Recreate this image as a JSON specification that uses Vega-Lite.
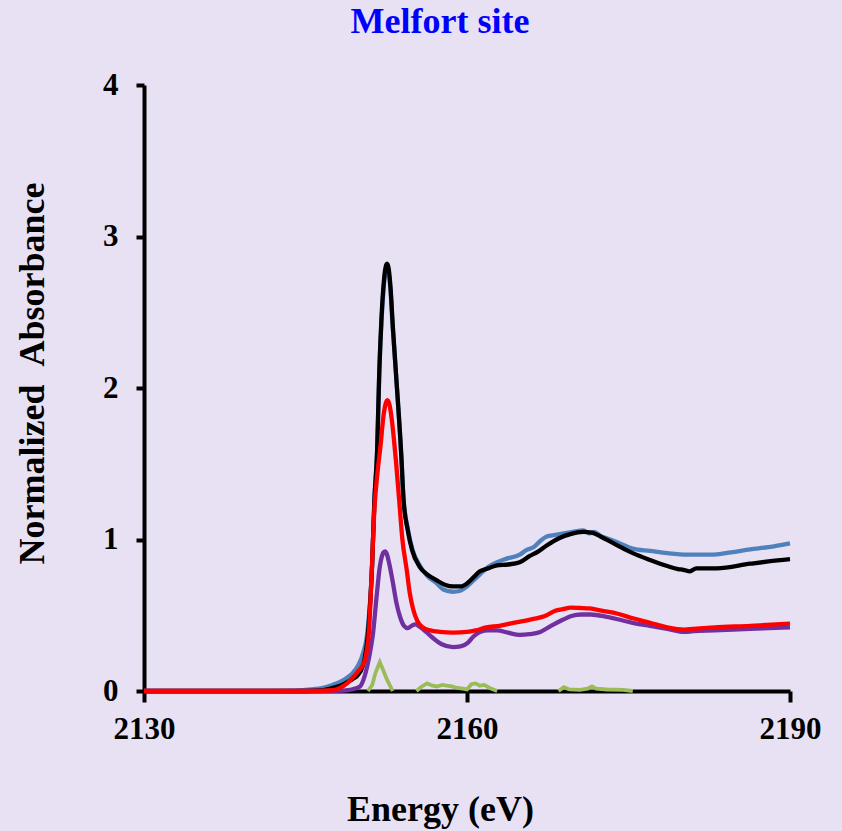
{
  "$schema": "https://vega.github.io/schema/vega-lite/v6.json",
  "width": 646,
  "height": 606,
  "autosize": {"type": "none"},
  "padding": {"left": 144, "top": 85, "right": 52, "bottom": 140},
  "background": "#e8e1f3",
  "title": {
    "text": "Melfort site",
    "color": "#0000ff",
    "font": "Liberation Serif",
    "fontSize": 36,
    "fontWeight": "bold",
    "anchor": "middle",
    "frame": "group",
    "dx": -27,
    "baseline": "alphabetic",
    "offset": 0
  },
  "config": {
    "view": {"stroke": null},
    "axis": {"grid": false}
  },
  "data": {
    "values": [
      {"series": "b", "seg": 0, "energy": 2130, "absorbance": 0},
      {"series": "b", "seg": 0, "energy": 2140, "absorbance": 0},
      {"series": "b", "seg": 0, "energy": 2144, "absorbance": 0.003},
      {"series": "b", "seg": 0, "energy": 2145.5, "absorbance": 0.01},
      {"series": "b", "seg": 0, "energy": 2146.6, "absorbance": 0.02},
      {"series": "b", "seg": 0, "energy": 2147.5, "absorbance": 0.04},
      {"series": "b", "seg": 0, "energy": 2148.2, "absorbance": 0.06},
      {"series": "b", "seg": 0, "energy": 2148.9, "absorbance": 0.09},
      {"series": "b", "seg": 0, "energy": 2149.4, "absorbance": 0.12},
      {"series": "b", "seg": 0, "energy": 2149.9, "absorbance": 0.17},
      {"series": "b", "seg": 0, "energy": 2150.35, "absorbance": 0.25},
      {"series": "b", "seg": 0, "energy": 2150.8, "absorbance": 0.42},
      {"series": "b", "seg": 0, "energy": 2151.2, "absorbance": 0.85},
      {"series": "b", "seg": 0, "energy": 2151.4, "absorbance": 1.26},
      {"series": "b", "seg": 0, "energy": 2151.65, "absorbance": 1.58},
      {"series": "b", "seg": 0, "energy": 2151.85, "absorbance": 2.1},
      {"series": "b", "seg": 0, "energy": 2152.05, "absorbance": 2.43},
      {"series": "b", "seg": 0, "energy": 2152.25, "absorbance": 2.65},
      {"series": "b", "seg": 0, "energy": 2152.42, "absorbance": 2.76},
      {"series": "b", "seg": 0, "energy": 2152.57, "absorbance": 2.79},
      {"series": "b", "seg": 0, "energy": 2152.72, "absorbance": 2.76},
      {"series": "b", "seg": 0, "energy": 2152.9, "absorbance": 2.64},
      {"series": "b", "seg": 0, "energy": 2153.1, "absorbance": 2.4},
      {"series": "b", "seg": 0, "energy": 2153.4, "absorbance": 2.1},
      {"series": "b", "seg": 0, "energy": 2153.9, "absorbance": 1.55},
      {"series": "b", "seg": 0, "energy": 2154.1, "absorbance": 1.27},
      {"series": "b", "seg": 0, "energy": 2154.5, "absorbance": 1.07},
      {"series": "b", "seg": 0, "energy": 2154.95, "absorbance": 0.93},
      {"series": "b", "seg": 0, "energy": 2155.6, "absorbance": 0.83},
      {"series": "b", "seg": 0, "energy": 2156.3, "absorbance": 0.76},
      {"series": "b", "seg": 0, "energy": 2157.2, "absorbance": 0.71},
      {"series": "b", "seg": 0, "energy": 2157.8, "absorbance": 0.67},
      {"series": "b", "seg": 0, "energy": 2158.7, "absorbance": 0.655},
      {"series": "b", "seg": 0, "energy": 2159.3, "absorbance": 0.66},
      {"series": "b", "seg": 0, "energy": 2160, "absorbance": 0.69},
      {"series": "b", "seg": 0, "energy": 2160.6, "absorbance": 0.73},
      {"series": "b", "seg": 0, "energy": 2161.2, "absorbance": 0.77},
      {"series": "b", "seg": 0, "energy": 2162, "absorbance": 0.82},
      {"series": "b", "seg": 0, "energy": 2162.8, "absorbance": 0.85},
      {"series": "b", "seg": 0, "energy": 2163.5, "absorbance": 0.87},
      {"series": "b", "seg": 0, "energy": 2164.9, "absorbance": 0.9},
      {"series": "b", "seg": 0, "energy": 2165.5, "absorbance": 0.93},
      {"series": "b", "seg": 0, "energy": 2166.2, "absorbance": 0.95},
      {"series": "b", "seg": 0, "energy": 2166.8, "absorbance": 0.99},
      {"series": "b", "seg": 0, "energy": 2167.4, "absorbance": 1.02},
      {"series": "b", "seg": 0, "energy": 2168.2, "absorbance": 1.03},
      {"series": "b", "seg": 0, "energy": 2169, "absorbance": 1.04},
      {"series": "b", "seg": 0, "energy": 2169.8, "absorbance": 1.05},
      {"series": "b", "seg": 0, "energy": 2170.8, "absorbance": 1.06},
      {"series": "b", "seg": 0, "energy": 2171.4, "absorbance": 1.04},
      {"series": "b", "seg": 0, "energy": 2171.8, "absorbance": 1.05},
      {"series": "b", "seg": 0, "energy": 2172.5, "absorbance": 1.02},
      {"series": "b", "seg": 0, "energy": 2173.3, "absorbance": 1.0},
      {"series": "b", "seg": 0, "energy": 2174, "absorbance": 0.98},
      {"series": "b", "seg": 0, "energy": 2175.4, "absorbance": 0.94},
      {"series": "b", "seg": 0, "energy": 2177, "absorbance": 0.925},
      {"series": "b", "seg": 0, "energy": 2178.6, "absorbance": 0.91},
      {"series": "b", "seg": 0, "energy": 2180.5, "absorbance": 0.9},
      {"series": "b", "seg": 0, "energy": 2182.6, "absorbance": 0.9},
      {"series": "b", "seg": 0, "energy": 2184.5, "absorbance": 0.915},
      {"series": "b", "seg": 0, "energy": 2186.3, "absorbance": 0.935},
      {"series": "b", "seg": 0, "energy": 2188, "absorbance": 0.95},
      {"series": "b", "seg": 0, "energy": 2190, "absorbance": 0.975},

      {"series": "k", "seg": 0, "energy": 2130, "absorbance": 0},
      {"series": "k", "seg": 0, "energy": 2145, "absorbance": 0},
      {"series": "k", "seg": 0, "energy": 2146.6, "absorbance": 0.005},
      {"series": "k", "seg": 0, "energy": 2147.5, "absorbance": 0.02},
      {"series": "k", "seg": 0, "energy": 2148.2, "absorbance": 0.035},
      {"series": "k", "seg": 0, "energy": 2148.9, "absorbance": 0.06},
      {"series": "k", "seg": 0, "energy": 2149.4, "absorbance": 0.08},
      {"series": "k", "seg": 0, "energy": 2149.8, "absorbance": 0.1},
      {"series": "k", "seg": 0, "energy": 2150.35, "absorbance": 0.17},
      {"series": "k", "seg": 0, "energy": 2150.8, "absorbance": 0.38},
      {"series": "k", "seg": 0, "energy": 2151.18, "absorbance": 0.82},
      {"series": "k", "seg": 0, "energy": 2151.4, "absorbance": 1.26},
      {"series": "k", "seg": 0, "energy": 2151.65, "absorbance": 1.58},
      {"series": "k", "seg": 0, "energy": 2151.85, "absorbance": 2.1},
      {"series": "k", "seg": 0, "energy": 2152.05, "absorbance": 2.45},
      {"series": "k", "seg": 0, "energy": 2152.25, "absorbance": 2.68},
      {"series": "k", "seg": 0, "energy": 2152.42, "absorbance": 2.79},
      {"series": "k", "seg": 0, "energy": 2152.57, "absorbance": 2.82},
      {"series": "k", "seg": 0, "energy": 2152.72, "absorbance": 2.79},
      {"series": "k", "seg": 0, "energy": 2152.9, "absorbance": 2.66},
      {"series": "k", "seg": 0, "energy": 2153.1, "absorbance": 2.42},
      {"series": "k", "seg": 0, "energy": 2153.4, "absorbance": 2.1},
      {"series": "k", "seg": 0, "energy": 2153.9, "absorbance": 1.55},
      {"series": "k", "seg": 0, "energy": 2154.1, "absorbance": 1.27},
      {"series": "k", "seg": 0, "energy": 2154.5, "absorbance": 1.06},
      {"series": "k", "seg": 0, "energy": 2154.9, "absorbance": 0.93},
      {"series": "k", "seg": 0, "energy": 2155.6, "absorbance": 0.82},
      {"series": "k", "seg": 0, "energy": 2156.3, "absorbance": 0.77},
      {"series": "k", "seg": 0, "energy": 2157.2, "absorbance": 0.73},
      {"series": "k", "seg": 0, "energy": 2158, "absorbance": 0.7},
      {"series": "k", "seg": 0, "energy": 2158.7, "absorbance": 0.69},
      {"series": "k", "seg": 0, "energy": 2159.4, "absorbance": 0.69},
      {"series": "k", "seg": 0, "energy": 2160, "absorbance": 0.71},
      {"series": "k", "seg": 0, "energy": 2160.6, "absorbance": 0.75},
      {"series": "k", "seg": 0, "energy": 2161.2, "absorbance": 0.79},
      {"series": "k", "seg": 0, "energy": 2162, "absorbance": 0.81},
      {"series": "k", "seg": 0, "energy": 2162.8, "absorbance": 0.83},
      {"series": "k", "seg": 0, "energy": 2163.8, "absorbance": 0.835},
      {"series": "k", "seg": 0, "energy": 2164.9, "absorbance": 0.85},
      {"series": "k", "seg": 0, "energy": 2165.8, "absorbance": 0.89},
      {"series": "k", "seg": 0, "energy": 2166.6, "absorbance": 0.92},
      {"series": "k", "seg": 0, "energy": 2167.4, "absorbance": 0.96},
      {"series": "k", "seg": 0, "energy": 2168.6, "absorbance": 1.01},
      {"series": "k", "seg": 0, "energy": 2169.6, "absorbance": 1.035},
      {"series": "k", "seg": 0, "energy": 2170.8, "absorbance": 1.05},
      {"series": "k", "seg": 0, "energy": 2171.6, "absorbance": 1.045},
      {"series": "k", "seg": 0, "energy": 2172.4, "absorbance": 1.02},
      {"series": "k", "seg": 0, "energy": 2174, "absorbance": 0.96},
      {"series": "k", "seg": 0, "energy": 2175.4, "absorbance": 0.91},
      {"series": "k", "seg": 0, "energy": 2177, "absorbance": 0.865},
      {"series": "k", "seg": 0, "energy": 2178.6, "absorbance": 0.825},
      {"series": "k", "seg": 0, "energy": 2179.6, "absorbance": 0.805},
      {"series": "k", "seg": 0, "energy": 2180.1, "absorbance": 0.8},
      {"series": "k", "seg": 0, "energy": 2180.7, "absorbance": 0.79},
      {"series": "k", "seg": 0, "energy": 2181.3, "absorbance": 0.81},
      {"series": "k", "seg": 0, "energy": 2183.2, "absorbance": 0.81},
      {"series": "k", "seg": 0, "energy": 2186.3, "absorbance": 0.84},
      {"series": "k", "seg": 0, "energy": 2188, "absorbance": 0.855},
      {"series": "k", "seg": 0, "energy": 2190, "absorbance": 0.87},

      {"series": "p", "seg": 0, "energy": 2130, "absorbance": 0},
      {"series": "p", "seg": 0, "energy": 2147, "absorbance": 0},
      {"series": "p", "seg": 0, "energy": 2148.5, "absorbance": 0.003},
      {"series": "p", "seg": 0, "energy": 2149.3, "absorbance": 0.01},
      {"series": "p", "seg": 0, "energy": 2150.06, "absorbance": 0.03},
      {"series": "p", "seg": 0, "energy": 2150.5, "absorbance": 0.1},
      {"series": "p", "seg": 0, "energy": 2150.9, "absorbance": 0.22},
      {"series": "p", "seg": 0, "energy": 2151.27, "absorbance": 0.38},
      {"series": "p", "seg": 0, "energy": 2151.6, "absorbance": 0.62},
      {"series": "p", "seg": 0, "energy": 2151.9, "absorbance": 0.82},
      {"series": "p", "seg": 0, "energy": 2152.1, "absorbance": 0.89},
      {"series": "p", "seg": 0, "energy": 2152.25, "absorbance": 0.915},
      {"series": "p", "seg": 0, "energy": 2152.4, "absorbance": 0.922},
      {"series": "p", "seg": 0, "energy": 2152.55, "absorbance": 0.905},
      {"series": "p", "seg": 0, "energy": 2152.75, "absorbance": 0.85},
      {"series": "p", "seg": 0, "energy": 2152.95, "absorbance": 0.78},
      {"series": "p", "seg": 0, "energy": 2153.13, "absorbance": 0.71},
      {"series": "p", "seg": 0, "energy": 2153.45, "absorbance": 0.58},
      {"series": "p", "seg": 0, "energy": 2153.78, "absorbance": 0.49},
      {"series": "p", "seg": 0, "energy": 2154.15, "absorbance": 0.43},
      {"series": "p", "seg": 0, "energy": 2154.5, "absorbance": 0.415},
      {"series": "p", "seg": 0, "energy": 2154.85, "absorbance": 0.43},
      {"series": "p", "seg": 0, "energy": 2155.2, "absorbance": 0.44},
      {"series": "p", "seg": 0, "energy": 2155.6, "absorbance": 0.425},
      {"series": "p", "seg": 0, "energy": 2156.2, "absorbance": 0.39},
      {"series": "p", "seg": 0, "energy": 2156.84, "absorbance": 0.35},
      {"series": "p", "seg": 0, "energy": 2157.6, "absorbance": 0.31},
      {"series": "p", "seg": 0, "energy": 2158.7, "absorbance": 0.29},
      {"series": "p", "seg": 0, "energy": 2159.4, "absorbance": 0.295},
      {"series": "p", "seg": 0, "energy": 2160.1, "absorbance": 0.32},
      {"series": "p", "seg": 0, "energy": 2160.6, "absorbance": 0.36},
      {"series": "p", "seg": 0, "energy": 2161.2, "absorbance": 0.39},
      {"series": "p", "seg": 0, "energy": 2162, "absorbance": 0.4},
      {"series": "p", "seg": 0, "energy": 2162.8, "absorbance": 0.4},
      {"series": "p", "seg": 0, "energy": 2163.8, "absorbance": 0.385},
      {"series": "p", "seg": 0, "energy": 2164.9, "absorbance": 0.37},
      {"series": "p", "seg": 0, "energy": 2165.8, "absorbance": 0.375},
      {"series": "p", "seg": 0, "energy": 2166.8, "absorbance": 0.39},
      {"series": "p", "seg": 0, "energy": 2167.8, "absorbance": 0.43},
      {"series": "p", "seg": 0, "energy": 2168.9, "absorbance": 0.47},
      {"series": "p", "seg": 0, "energy": 2169.7, "absorbance": 0.495},
      {"series": "p", "seg": 0, "energy": 2170.6, "absorbance": 0.505},
      {"series": "p", "seg": 0, "energy": 2171.5, "absorbance": 0.505},
      {"series": "p", "seg": 0, "energy": 2173, "absorbance": 0.49},
      {"series": "p", "seg": 0, "energy": 2175.4, "absorbance": 0.45},
      {"series": "p", "seg": 0, "energy": 2177, "absorbance": 0.43},
      {"series": "p", "seg": 0, "energy": 2178.6, "absorbance": 0.41},
      {"series": "p", "seg": 0, "energy": 2180.2, "absorbance": 0.39},
      {"series": "p", "seg": 0, "energy": 2181, "absorbance": 0.395},
      {"series": "p", "seg": 0, "energy": 2183, "absorbance": 0.4},
      {"series": "p", "seg": 0, "energy": 2186.3, "absorbance": 0.41},
      {"series": "p", "seg": 0, "energy": 2190, "absorbance": 0.42},

      {"series": "r", "seg": 0, "energy": 2130, "absorbance": 0},
      {"series": "r", "seg": 0, "energy": 2146, "absorbance": 0},
      {"series": "r", "seg": 0, "energy": 2147.5, "absorbance": 0.005},
      {"series": "r", "seg": 0, "energy": 2148.2, "absorbance": 0.02},
      {"series": "r", "seg": 0, "energy": 2148.85, "absorbance": 0.05},
      {"series": "r", "seg": 0, "energy": 2149.4, "absorbance": 0.09},
      {"series": "r", "seg": 0, "energy": 2149.9, "absorbance": 0.13},
      {"series": "r", "seg": 0, "energy": 2150.5, "absorbance": 0.2},
      {"series": "r", "seg": 0, "energy": 2150.9, "absorbance": 0.4},
      {"series": "r", "seg": 0, "energy": 2151.1, "absorbance": 0.7},
      {"series": "r", "seg": 0, "energy": 2151.4, "absorbance": 1.2},
      {"series": "r", "seg": 0, "energy": 2151.7, "absorbance": 1.45},
      {"series": "r", "seg": 0, "energy": 2152, "absorbance": 1.64},
      {"series": "r", "seg": 0, "energy": 2152.2, "absorbance": 1.79},
      {"series": "r", "seg": 0, "energy": 2152.4, "absorbance": 1.885},
      {"series": "r", "seg": 0, "energy": 2152.6, "absorbance": 1.92},
      {"series": "r", "seg": 0, "energy": 2152.8, "absorbance": 1.89},
      {"series": "r", "seg": 0, "energy": 2153, "absorbance": 1.8},
      {"series": "r", "seg": 0, "energy": 2153.2, "absorbance": 1.67},
      {"series": "r", "seg": 0, "energy": 2153.4, "absorbance": 1.52},
      {"series": "r", "seg": 0, "energy": 2153.7, "absorbance": 1.26},
      {"series": "r", "seg": 0, "energy": 2154, "absorbance": 1.0},
      {"series": "r", "seg": 0, "energy": 2154.4, "absorbance": 0.8},
      {"series": "r", "seg": 0, "energy": 2154.7, "absorbance": 0.64},
      {"series": "r", "seg": 0, "energy": 2155, "absorbance": 0.54},
      {"series": "r", "seg": 0, "energy": 2155.4, "absorbance": 0.46},
      {"series": "r", "seg": 0, "energy": 2155.9, "absorbance": 0.42},
      {"series": "r", "seg": 0, "energy": 2156.6, "absorbance": 0.4},
      {"series": "r", "seg": 0, "energy": 2157.5, "absorbance": 0.39},
      {"series": "r", "seg": 0, "energy": 2158.7, "absorbance": 0.385},
      {"series": "r", "seg": 0, "energy": 2160, "absorbance": 0.39},
      {"series": "r", "seg": 0, "energy": 2160.8, "absorbance": 0.4},
      {"series": "r", "seg": 0, "energy": 2161.8, "absorbance": 0.42},
      {"series": "r", "seg": 0, "energy": 2163, "absorbance": 0.43},
      {"series": "r", "seg": 0, "energy": 2164.3, "absorbance": 0.45},
      {"series": "r", "seg": 0, "energy": 2165.8, "absorbance": 0.47},
      {"series": "r", "seg": 0, "energy": 2167.4, "absorbance": 0.5},
      {"series": "r", "seg": 0, "energy": 2168.2, "absorbance": 0.53},
      {"series": "r", "seg": 0, "energy": 2168.9, "absorbance": 0.54},
      {"series": "r", "seg": 0, "energy": 2169.6, "absorbance": 0.55},
      {"series": "r", "seg": 0, "energy": 2170.5, "absorbance": 0.548},
      {"series": "r", "seg": 0, "energy": 2171.4, "absorbance": 0.545},
      {"series": "r", "seg": 0, "energy": 2172.5, "absorbance": 0.53},
      {"series": "r", "seg": 0, "energy": 2174, "absorbance": 0.51},
      {"series": "r", "seg": 0, "energy": 2175.4, "absorbance": 0.48},
      {"series": "r", "seg": 0, "energy": 2177, "absorbance": 0.45},
      {"series": "r", "seg": 0, "energy": 2178.6, "absorbance": 0.42},
      {"series": "r", "seg": 0, "energy": 2180.2, "absorbance": 0.405},
      {"series": "r", "seg": 0, "energy": 2181, "absorbance": 0.41},
      {"series": "r", "seg": 0, "energy": 2183, "absorbance": 0.42},
      {"series": "r", "seg": 0, "energy": 2186.3, "absorbance": 0.43},
      {"series": "r", "seg": 0, "energy": 2190, "absorbance": 0.445},

      {"series": "g", "seg": 1, "energy": 2150.8, "absorbance": 0},
      {"series": "g", "seg": 1, "energy": 2151.2, "absorbance": 0.04},
      {"series": "g", "seg": 1, "energy": 2151.5, "absorbance": 0.12},
      {"series": "g", "seg": 1, "energy": 2151.9, "absorbance": 0.19},
      {"series": "g", "seg": 1, "energy": 2152.2, "absorbance": 0.14},
      {"series": "g", "seg": 1, "energy": 2152.6, "absorbance": 0.07},
      {"series": "g", "seg": 1, "energy": 2153.1, "absorbance": 0},
      {"series": "g", "seg": 2, "energy": 2155.3, "absorbance": 0},
      {"series": "g", "seg": 2, "energy": 2155.8, "absorbance": 0.03},
      {"series": "g", "seg": 2, "energy": 2156.3, "absorbance": 0.05},
      {"series": "g", "seg": 2, "energy": 2156.8, "absorbance": 0.035},
      {"series": "g", "seg": 2, "energy": 2157.2, "absorbance": 0.03},
      {"series": "g", "seg": 2, "energy": 2157.7, "absorbance": 0.04},
      {"series": "g", "seg": 2, "energy": 2158.1, "absorbance": 0.035},
      {"series": "g", "seg": 2, "energy": 2158.6, "absorbance": 0.03},
      {"series": "g", "seg": 2, "energy": 2159.1, "absorbance": 0.02},
      {"series": "g", "seg": 2, "energy": 2159.6, "absorbance": 0.015},
      {"series": "g", "seg": 2, "energy": 2160, "absorbance": 0.01},
      {"series": "g", "seg": 2, "energy": 2160.4, "absorbance": 0.045},
      {"series": "g", "seg": 2, "energy": 2160.8, "absorbance": 0.05},
      {"series": "g", "seg": 2, "energy": 2161.2, "absorbance": 0.035},
      {"series": "g", "seg": 2, "energy": 2161.6, "absorbance": 0.04},
      {"series": "g", "seg": 2, "energy": 2162.1, "absorbance": 0.02},
      {"series": "g", "seg": 2, "energy": 2162.8, "absorbance": 0},
      {"series": "g", "seg": 3, "energy": 2168.5, "absorbance": 0},
      {"series": "g", "seg": 3, "energy": 2169, "absorbance": 0.025},
      {"series": "g", "seg": 3, "energy": 2169.5, "absorbance": 0.01},
      {"series": "g", "seg": 3, "energy": 2170.5, "absorbance": 0.008},
      {"series": "g", "seg": 3, "energy": 2171.2, "absorbance": 0.015},
      {"series": "g", "seg": 3, "energy": 2171.6, "absorbance": 0.03},
      {"series": "g", "seg": 3, "energy": 2172, "absorbance": 0.015},
      {"series": "g", "seg": 3, "energy": 2173, "absorbance": 0.01},
      {"series": "g", "seg": 3, "energy": 2174.5, "absorbance": 0.008},
      {"series": "g", "seg": 3, "energy": 2175.4, "absorbance": 0}
    ]
  },
  "encoding": {
    "x": {
      "field": "energy",
      "type": "quantitative",
      "scale": {"domain": [2130, 2190], "nice": false, "zero": false},
      "axis": {
        "values": [2130, 2160, 2190],
        "format": "d",
        "labelFlush": false,
        "domainColor": "black",
        "domainWidth": 4,
        "tickColor": "black",
        "tickWidth": 4,
        "tickSize": 11,
        "labelFont": "Liberation Serif",
        "labelFontSize": 31,
        "labelFontWeight": "bold",
        "labelColor": "black",
        "labelPadding": 12,
        "title": "Energy (eV)",
        "titleFont": "Liberation Serif",
        "titleFontSize": 36,
        "titleFontWeight": "bold",
        "titleColor": "black",
        "titleX": 296,
        "titleY": 129,
        "titleBaseline": "alphabetic"
      }
    },
    "y": {
      "field": "absorbance",
      "type": "quantitative",
      "scale": {"domain": [0, 4], "nice": false},
      "axis": {
        "values": [0, 1, 2, 3, 4],
        "format": "d",
        "labelFlush": false,
        "domainColor": "black",
        "domainWidth": 4,
        "tickColor": "black",
        "tickWidth": 4,
        "tickSize": 8,
        "labelFont": "Liberation Serif",
        "labelFontSize": 31,
        "labelFontWeight": "bold",
        "labelColor": "black",
        "labelPadding": 18,
        "title": "Normalized \u00a0Absorbance",
        "titleFont": "Liberation Serif",
        "titleFontSize": 36,
        "titleFontWeight": "bold",
        "titleColor": "black",
        "titleX": -101,
        "titleY": 288,
        "titleAngle": -90,
        "titleBaseline": "alphabetic",
        "titleAlign": "center"
      }
    }
  },
  "layer": [
    {
      "transform": [{"filter": "datum.series === 'b'"}],
      "mark": {"type": "line", "color": "#4f81bd", "strokeWidth": 4.3, "interpolate": "monotone"},
      "encoding": {"detail": {"field": "seg"}}
    },
    {
      "transform": [{"filter": "datum.series === 'k'"}],
      "mark": {"type": "line", "color": "#000000", "strokeWidth": 4.3, "interpolate": "monotone"},
      "encoding": {"detail": {"field": "seg"}}
    },
    {
      "transform": [{"filter": "datum.series === 'p'"}],
      "mark": {"type": "line", "color": "#7030a0", "strokeWidth": 4.3, "interpolate": "monotone"},
      "encoding": {"detail": {"field": "seg"}}
    },
    {
      "transform": [{"filter": "datum.series === 'r'"}],
      "mark": {"type": "line", "color": "#ff0000", "strokeWidth": 4.3, "interpolate": "monotone"},
      "encoding": {"detail": {"field": "seg"}}
    },
    {
      "transform": [{"filter": "datum.series === 'g'"}],
      "mark": {"type": "line", "color": "#9bbb59", "strokeWidth": 3.8},
      "encoding": {"detail": {"field": "seg"}}
    }
  ]
}
